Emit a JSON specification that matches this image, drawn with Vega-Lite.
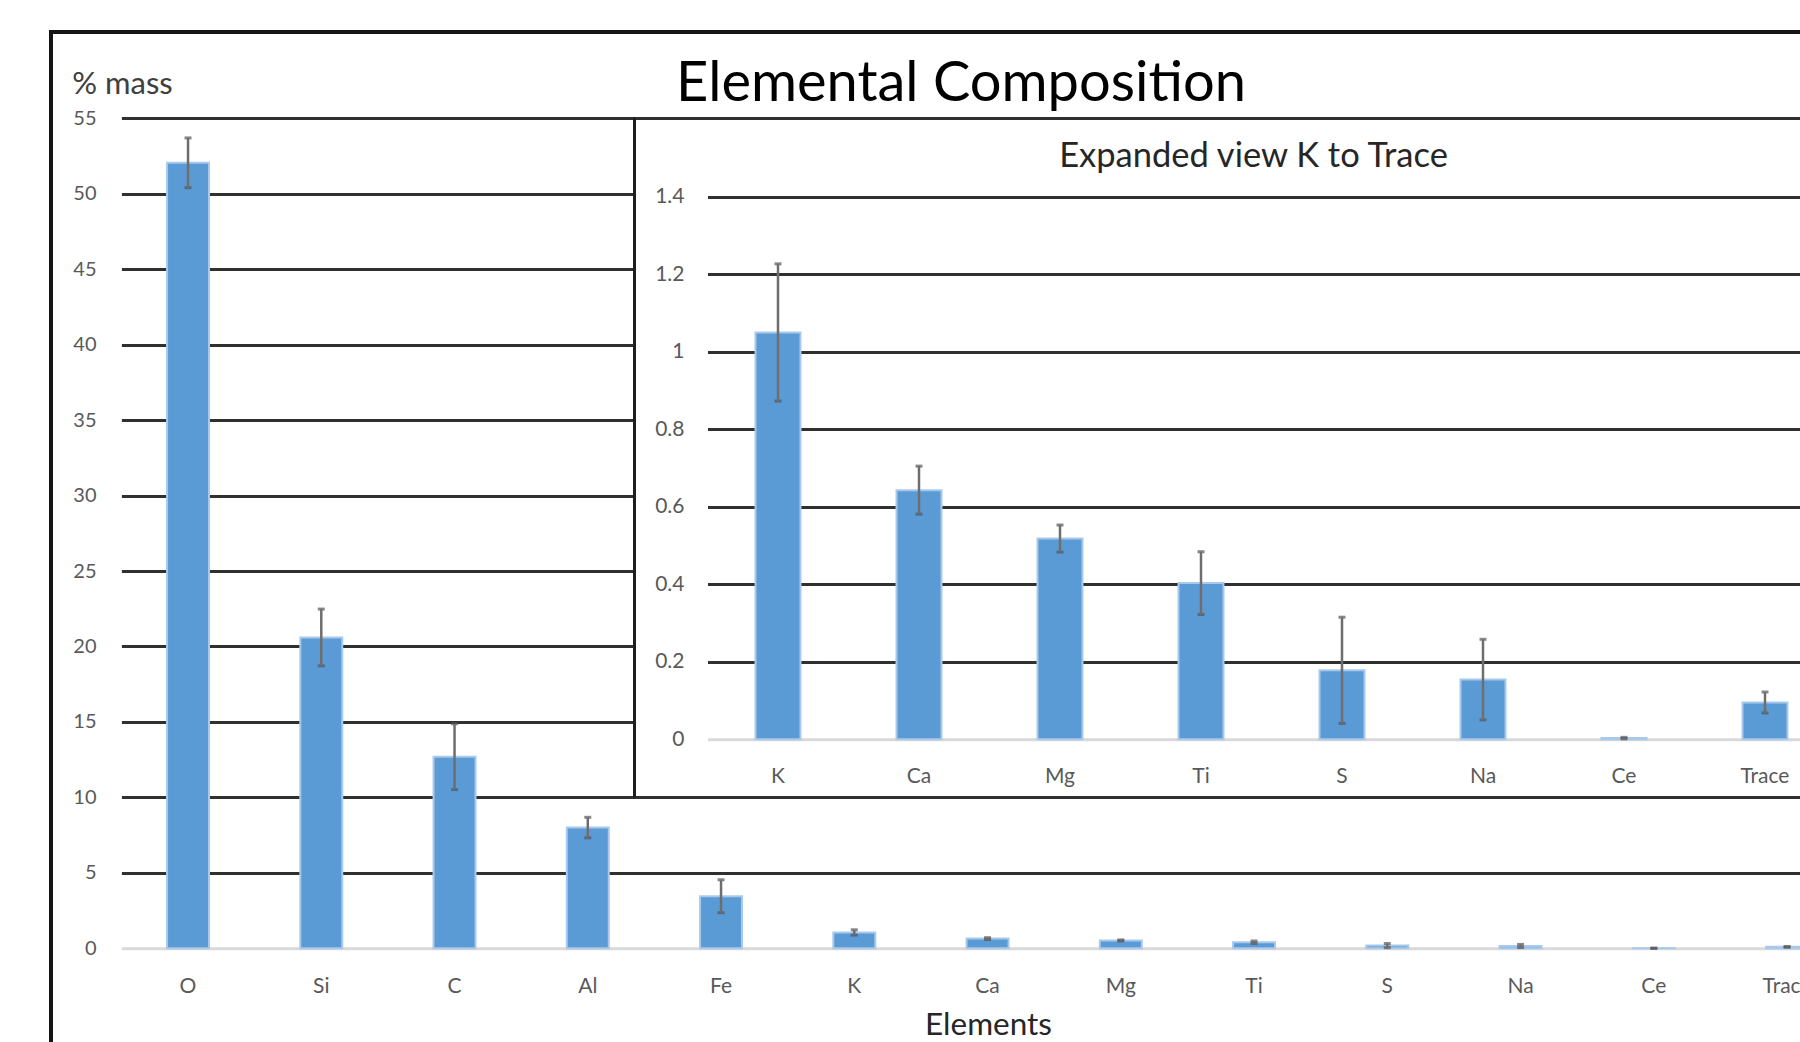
{
  "$schema": "https://vega.github.io/schema/vega-lite/v6.json",
  "description": "Elemental composition (% mass) with an expanded inset for the minor elements K to Trace.",
  "autosize": {"type": "none"},
  "width": 1810,
  "height": 1100,
  "padding": {"left": 51, "top": 32, "right": -61, "bottom": -90},
  "background": "white",
  "view": {"stroke": "#141414", "strokeWidth": 4, "fill": "white"},
  "config": {
    "font": "Lato",
    "axis": {"labelFont": "Lato", "titleFont": "Lato"},
    "title": {"font": "Lato"}
  },
  "title": {
    "text": "Elemental Composition",
    "frame": "group",
    "anchor": "start",
    "align": "center",
    "dx": 910,
    "offset": -51,
    "dy": 57,
    "baseline": "middle",
    "fontSize": 56,
    "fontWeight": "normal",
    "color": "#000000"
  },
  "datasets": {
    "composition": [
      {"element": "O", "mass": 52.05, "sd": 1.65},
      {"element": "Si", "mass": 20.6, "sd": 1.88},
      {"element": "C", "mass": 12.7, "sd": 2.18},
      {"element": "Al", "mass": 8.0, "sd": 0.68},
      {"element": "Fe", "mass": 3.45, "sd": 1.09},
      {"element": "K", "mass": 1.05, "sd": 0.177},
      {"element": "Ca", "mass": 0.643, "sd": 0.062},
      {"element": "Mg", "mass": 0.518, "sd": 0.035},
      {"element": "Ti", "mass": 0.403, "sd": 0.081},
      {"element": "S", "mass": 0.178, "sd": 0.137},
      {"element": "Na", "mass": 0.154, "sd": 0.104},
      {"element": "Ce", "mass": 0.003, "sd": 0.002},
      {"element": "Trace", "mass": 0.095, "sd": 0.027}
    ]
  },
  "resolve": {
    "scale": {"x": "independent", "y": "independent"},
    "axis": {"x": "independent", "y": "independent"}
  },
  "layer": [
    {
      "data": {"name": "composition"},
      "encoding": {
        "x": {
          "field": "element",
          "type": "nominal",
          "sort": null,
          "scale": {"type": "band", "range": [70.4, 1802.7], "paddingInner": 0.685, "paddingOuter": 0.3425},
          "axis": {
            "orient": "bottom",
            "title": "Elements",
            "offset": -183.7,
            "domainColor": "#d9d9d9",
            "domainWidth": 3,
            "ticks": false,
            "tickSize": 0,
            "labelAngle": 0,
            "labelPadding": 27,
            "labelFontSize": 21,
            "labelColor": "#595959",
            "titleFontSize": 31.5,
            "titleFontWeight": "normal",
            "titleColor": "#262626",
            "titleX": 937,
            "titleY": 77.5,
            "titleAlign": "center",
            "titleBaseline": "middle"
          }
        }
      },
      "layer": [
        {
          "mark": {"type": "bar", "color": "#5b9bd5", "stroke": "#a9c9ec", "strokeWidth": 2},
          "encoding": {
            "y": {
              "field": "mass",
              "type": "quantitative",
              "title": "% mass",
              "scale": {"domain": [0, 55], "range": [916.3, 86.3], "nice": false},
              "axis": {
                "orient": "left",
                "values": [0, 5, 10, 15, 20, 25, 30, 35, 40, 45, 50, 55],
                "grid": true,
                "gridColor": "#303030",
                "gridWidth": 2.8,
                "gridOpacity": {"condition": {"test": "datum.value === 0 || (datum.value > 10 && datum.value < 55)", "value": 0}, "value": 1},
                "domain": false,
                "ticks": false,
                "tickSize": 0,
                "offset": -45,
                "labelPadding": 0,
                "labelFontSize": 20,
                "labelColor": "#595959",
                "titleAngle": 0,
                "titleAlign": "left",
                "titleBaseline": "middle",
                "titleX": -24.3,
                "titleY": 52,
                "titleFontSize": 31,
                "titleFontWeight": "normal",
                "titleColor": "#404040"
              }
            }
          }
        },
        {
          "mark": {
            "type": "errorbar",
            "ticks": {"size": 7, "thickness": 3, "color": "#555555"},
            "rule": {"color": "#6e6e6e", "strokeWidth": 2.5}
          },
          "encoding": {
            "y": {"field": "mass", "type": "quantitative", "title": "% mass"},
            "yError": {"field": "sd"}
          }
        }
      ]
    },
    {
      "description": "Upper gridlines of the main panel stop where the inset begins.",
      "data": {"values": []},
      "mark": "point",
      "encoding": {
        "x": {"field": "across", "type": "quantitative", "scale": {"domain": [0, 1], "range": [70.4, 583]}, "axis": null},
        "y": {
          "field": "level",
          "type": "quantitative",
          "scale": {"domain": [0, 55], "range": [916.3, 86.3], "nice": false},
          "axis": {
            "orient": "left",
            "values": [15, 20, 25, 30, 35, 40, 45, 50],
            "grid": true,
            "gridColor": "#303030",
            "gridWidth": 2.8,
            "labels": false,
            "domain": false,
            "ticks": false,
            "tickSize": 0,
            "offset": -45,
            "title": null
          }
        }
      }
    },
    {
      "data": {"name": "composition"},
      "transform": [
        {"filter": {"field": "element", "oneOf": ["K", "Ca", "Mg", "Ti", "S", "Na", "Ce", "Trace"]}}
      ],
      "encoding": {
        "x": {
          "field": "element",
          "type": "nominal",
          "sort": null,
          "scale": {"type": "band", "range": [656.5, 1784.5], "paddingInner": 0.681, "paddingOuter": 0.3405},
          "axis": {
            "orient": "bottom",
            "title": "Expanded view K to Trace",
            "offset": -392.7,
            "domainColor": "#d9d9d9",
            "domainWidth": 3,
            "ticks": false,
            "tickSize": 0,
            "labelAngle": 0,
            "labelPadding": 26.5,
            "labelFontSize": 21,
            "labelColor": "#595959",
            "titleFontSize": 34.5,
            "titleFontWeight": "normal",
            "titleColor": "#262626",
            "titleX": 1202,
            "titleY": -582.6,
            "titleAlign": "center",
            "titleBaseline": "middle"
          }
        }
      },
      "layer": [
        {
          "mark": {"type": "bar", "color": "#5b9bd5", "stroke": "#a9c9ec", "strokeWidth": 2},
          "encoding": {
            "y": {
              "field": "mass",
              "type": "quantitative",
              "title": "",
              "scale": {"domain": [-0.149, 1.606], "range": [765, 85], "nice": false, "zero": false},
              "axis": {
                "orient": "left",
                "values": [0, 0.2, 0.4, 0.6, 0.8, 1, 1.2, 1.4],
                "format": "~g",
                "grid": true,
                "gridColor": "#303030",
                "gridWidth": 2.8,
                "gridOpacity": {"condition": {"test": "datum.value === 0", "value": 0}, "value": 1},
                "domain": true,
                "domainColor": "#1e1e1e",
                "domainWidth": 3,
                "ticks": false,
                "tickSize": 0,
                "offset": -583,
                "labelPadding": -50,
                "labelAlign": "right",
                "labelFontSize": 21,
                "labelColor": "#595959"
              }
            }
          }
        },
        {
          "mark": {
            "type": "errorbar",
            "ticks": {"size": 7, "thickness": 3, "color": "#555555"},
            "rule": {"color": "#6e6e6e", "strokeWidth": 2.5}
          },
          "encoding": {
            "y": {"field": "mass", "type": "quantitative", "title": ""},
            "yError": {"field": "sd"}
          }
        }
      ]
    }
  ]
}
